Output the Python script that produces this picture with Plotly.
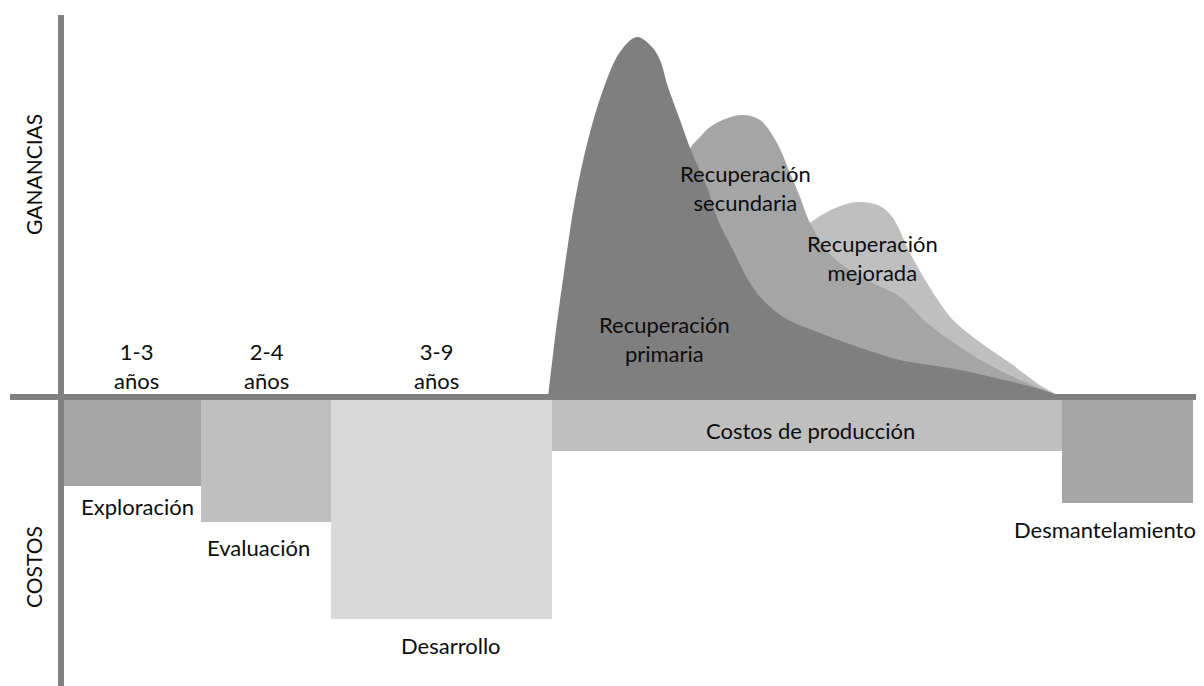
import plotly.graph_objects as go

# Etapas (costos) - x en unidades de tiempo arbitrarias, y negativo = costo
stage_names = ["Exploración", "Evaluación", "Desarrollo", "Costos de producción", "Desmantelamiento"]
stage_start = [0.0, 14.0, 27.0, 49.1, 100.1]
stage_end = [14.0, 27.0, 49.1, 100.1, 113.2]
stage_cost = [-8.9, -12.5, -22.2, -5.4, -10.6]
stage_colors = ["#A5A5A5", "#BFBFBF", "#D9D9D9", "#BFBFBF", "#A5A5A5"]

# Duraciones
duration_labels = ["1-3<br>años", "2-4<br>años", "3-9<br>años"]

# Curvas de recuperación (ganancias)
primary_x = [48.7, 49.5, 50.4, 51.4, 52.7, 54.2, 55.9, 57.6, 59.1, 59.9, 60.7, 61.9, 63.1,
             64.6, 65.7, 67.2, 68.9, 70.2, 72.2, 75.9, 80.6, 83.9, 89.9, 98.2, 100.1]
primary_y = [0.0, 6.7, 13.2, 19.7, 25.7, 30.7, 34.5, 36.0, 35.0, 33.7, 31.0, 27.7, 24.4,
             21.0, 17.7, 14.7, 11.4, 9.7, 8.0, 6.4, 4.7, 3.7, 2.7, 0.7, 0.0]

secondary_x = [49.1, 55.9, 59.9, 61.9, 63.0, 63.9, 64.9, 66.4, 68.2, 69.9, 71.6, 72.9, 73.9,
               74.9, 77.2, 80.6, 83.9, 86.6, 89.9, 93.2, 96.6, 100.1]
secondary_y = [0.0, 9.7, 18.2, 22.7, 25.0, 26.0, 27.0, 27.8, 28.2, 27.7, 25.4, 22.4, 20.0,
               17.4, 14.0, 11.7, 10.0, 7.4, 5.0, 3.0, 1.4, 0.0]

enhanced_x = [49.1, 63.9, 72.9, 74.9, 77.2, 79.6, 81.9, 83.2, 84.9, 86.6, 87.9, 89.2, 91.6,
              94.9, 98.2, 100.1]
enhanced_y = [0.0, 6.7, 15.7, 17.4, 18.8, 19.5, 19.1, 17.9, 14.4, 11.4, 9.4, 7.7, 5.7,
              3.4, 1.0, 0.0]

FONT = "Lato"
TEXT_COLOR = "#0d0d0d"
AXIS_COLOR = "#808080"

fig = go.Figure()

# curvas: de atrás hacia adelante
for xs, ys, col in [
    (enhanced_x, enhanced_y, "#BFBFBF"),
    (secondary_x, secondary_y, "#A5A5A5"),
    (primary_x, primary_y, "#7F7F7F"),
]:
    fig.add_trace(
        go.Scatter(
            x=xs,
            y=ys,
            mode="lines",
            line=dict(color=col, width=0, shape="spline", smoothing=1.0),
            fill="tozeroy",
            fillcolor=col,
            hoverinfo="skip",
        )
    )

# barras de costos
fig.add_trace(
    go.Bar(
        x=[(s + e) / 2 for s, e in zip(stage_start, stage_end)],
        y=stage_cost,
        width=[e - s for s, e in zip(stage_start, stage_end)],
        base=0,
        marker=dict(color=stage_colors, line=dict(width=0)),
        hoverinfo="skip",
    )
)

# ejes dibujados
fig.add_shape(type="line", x0=0, x1=0, y0=38.2, y1=-29.5,
              line=dict(color=AXIS_COLOR, width=6))
fig.add_shape(type="line", x0=-5.1, x1=115, y0=0, y1=0,
              line=dict(color=AXIS_COLOR, width=6))

# etiquetas de etapas
stage_label_pos = [(7.6, -10.9), (19.7, -15.0), (39.0, -24.8), (74.9, -3.3), (104.4, -13.2)]
for name, (lx, ly) in zip(stage_names, stage_label_pos):
    fig.add_annotation(x=lx, y=ly, text=name, showarrow=False,
                       font=dict(family=FONT, size=22, color=TEXT_COLOR))

duration_pos = [(7.5, 3.15), (20.5, 3.15), (37.5, 3.15)]
for lab, (lx, ly) in zip(duration_labels, duration_pos):
    fig.add_annotation(x=lx, y=ly, text=lab, showarrow=False,
                       font=dict(family=FONT, size=22, color=TEXT_COLOR))

curve_labels = ["Recuperación<br>primaria", "Recuperación<br>secundaria", "Recuperación<br>mejorada"]
curve_label_pos = [(60.3, 5.8), (68.4, 20.95), (81.1, 13.9)]
for lab, (lx, ly) in zip(curve_labels, curve_label_pos):
    fig.add_annotation(x=lx, y=ly, text=lab, showarrow=False,
                       font=dict(family=FONT, size=22, color=TEXT_COLOR))

fig.add_annotation(x=-2.8, y=22.2, text="GANANCIAS", textangle=-90, showarrow=False,
                   font=dict(family=FONT, size=21, color=TEXT_COLOR))
fig.add_annotation(x=-2.8, y=-17.0, text="COSTOS", textangle=-90, showarrow=False,
                   font=dict(family=FONT, size=21, color=TEXT_COLOR))

fig.update_layout(
    width=1196,
    height=678,
    template="plotly_white",
    plot_bgcolor="white",
    paper_bgcolor="white",
    margin=dict(l=0, r=0, t=0, b=0),
    showlegend=False,
    bargap=0,
)
fig.update_xaxes(range=[-5.3, 114.3], visible=False, showgrid=False, zeroline=False)
fig.update_yaxes(range=[-28.9, 38.9], visible=False, showgrid=False, zeroline=False)

fig.write_html("out.html")
